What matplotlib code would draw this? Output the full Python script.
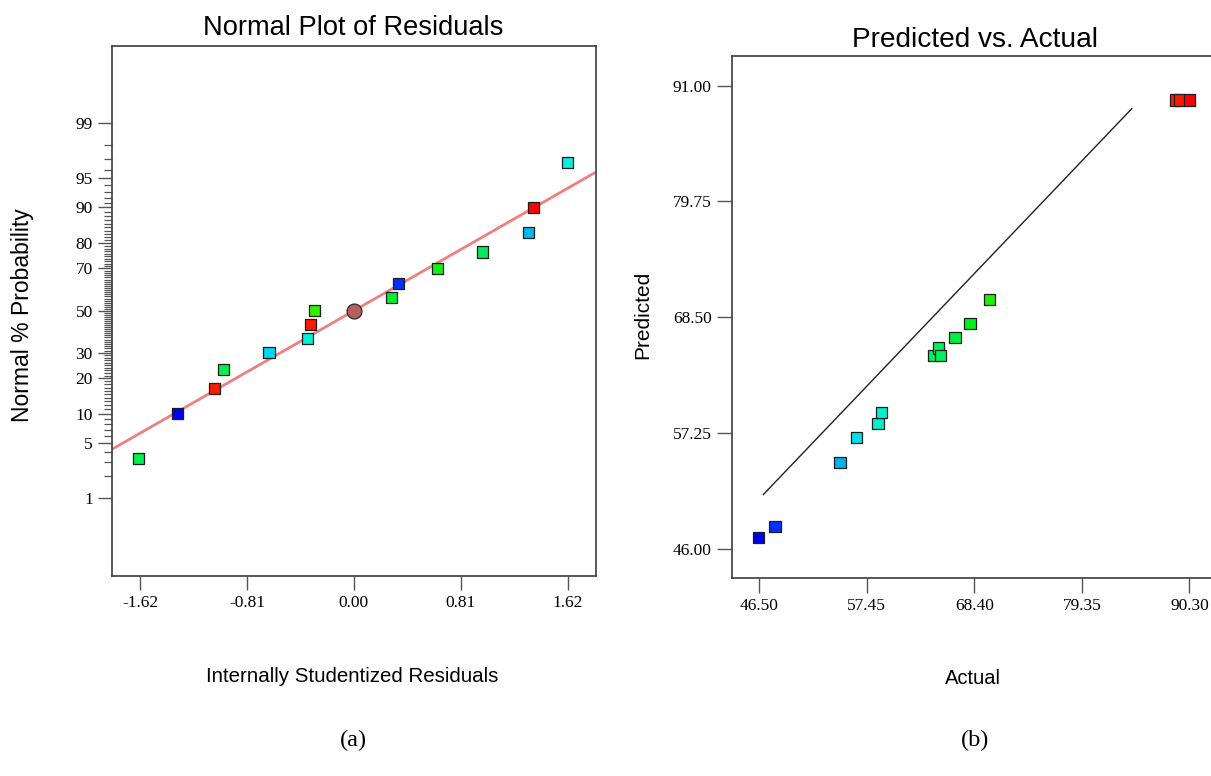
import matplotlib
matplotlib.use("Agg")
import matplotlib.pyplot as plt
from statistics import NormalDist

# ---------------- data ----------------
# (a) Normal plot of residuals
resid = [-1.63, -1.335, -1.055, -0.99, -0.643, -0.351, -0.328, -0.300,
         0.288, 0.338, 0.633, 0.977, 1.322, 1.360, 1.615]
prob_pct = [3.3, 10.0, 16.7, 23.3, 30.0, 36.7, 43.3, 50.0,
            56.7, 63.3, 70.0, 76.7, 83.3, 90.0, 96.7]
resid_colors = ['#00f050', '#0000f0', '#ff1a00', '#00f050', '#00d8f0', '#00f0d8',
                '#ff1a00', '#30f000', '#00f030', '#0030ff', '#10f010', '#00e860',
                '#00b8f0', '#ff0000', '#00f0d8']
center_resid = [0.0]
center_pct = [50.0]
fit_slope = 0.939           # z per unit residual of the reference line
x_ticks_a = [-1.62, -0.81, 0.00, 0.81, 1.62]
y_major_pct = [1, 5, 10, 20, 30, 50, 70, 80, 90, 95, 99]
y_minor_pct = [2, 3, 4] + list(range(6, 95)) + [96, 97, 98]

# (b) Predicted vs. Actual
actual = [46.40, 48.10, 54.72, 56.42, 58.59, 58.93, 64.22, 64.73, 64.91,
          66.43, 67.96, 69.97, 88.85, 89.28, 90.30]
predicted = [47.09, 48.13, 54.38, 56.81, 58.16, 59.20, 64.76, 65.51, 64.76,
             66.49, 67.88, 70.21, 89.61, 89.61, 89.61]
pred_colors = ['#0000f0', '#0030ff', '#00b0f0', '#00e0f0', '#00f0d0', '#00f0d0',
               '#00f060', '#00f060', '#00f060', '#00f040', '#00f020', '#20f000',
               '#ff1a00', '#ff1a00', '#ff0000']
ref_line_x = [46.91, 84.43]
ref_line_y = [51.26, 88.77]
x_ticks_b = [46.50, 57.45, 68.40, 79.35, 90.30]
y_ticks_b = [46.00, 57.25, 68.50, 79.75, 91.00]

# ---------------- figure ----------------
W, H = 1211, 776
fig = plt.figure(figsize=(W / 100, H / 100), dpi=100)
fig.patch.set_facecolor('white')

SANS = 'Liberation Sans'
SERIF = 'Liberation Serif'
SPINE = '#3c3c3c'
TICKC = '#555555'

def fx(px):
    return px / W

def fy(py):
    return 1 - py / H

nd = NormalDist()
z = lambda p: nd.inv_cdf(p / 100.0)

# ---- (a) ----
axa = fig.add_axes([fx(112.3), fy(575.7), fx(595.5) - fx(112.3), fy(45.7) - fy(575.7)])
axa.set_xlim(-1.83, 1.83)
axa.set_ylim(z(0.05), z(99.95))
xl = axa.get_xlim()
axa.plot(xl, [fit_slope * xl[0], fit_slope * xl[1]], color='#f07f7f', lw=2.0, zorder=2,
         solid_capstyle='butt')
axa.scatter(resid, [z(p) for p in prob_pct], marker='s', s=64, c=resid_colors,
            edgecolors='#1e1e1e', linewidths=0.9, zorder=3)
axa.scatter(center_resid, [z(p) for p in center_pct], marker='o', s=115, c='#b5605f',
            edgecolors='#2a2a2a', linewidths=0.9, zorder=4)
axa.set_xticks(x_ticks_a)
axa.set_xticklabels(['%.2f' % v for v in x_ticks_a])
axa.set_yticks([z(p) for p in y_major_pct])
axa.set_yticklabels([str(p) for p in y_major_pct])
axa.set_yticks([z(p) for p in y_minor_pct], minor=True)
axa.tick_params(axis='both', which='major', direction='out', length=10, width=1.0,
                color=TICKC, labelsize=12.5, pad=4)
axa.tick_params(axis='y', which='minor', direction='out', length=5.5, width=0.9,
                color=TICKC)
axa.tick_params(axis='x', which='minor', length=0)
for lab in axa.get_xticklabels() + axa.get_yticklabels():
    lab.set_fontfamily(SERIF)
for sp in axa.spines.values():
    sp.set_color(SPINE)
    sp.set_linewidth(1.2)

# ---- (b) ----
axb = fig.add_axes([fx(731.7), fy(578.3), fx(1217) - fx(731.7), fy(55.7) - fy(578.3)])
axb.set_xlim(43.69, 93.11)
axb.set_ylim(43.12, 93.92)
axb.plot(ref_line_x, ref_line_y, color='#202020', lw=1.0, zorder=2)
axb.scatter(actual, predicted, marker='s', s=64, c=pred_colors,
            edgecolors='#1e1e1e', linewidths=0.9, zorder=3)
axb.set_xticks(x_ticks_b)
axb.set_xticklabels(['%.2f' % v for v in x_ticks_b])
axb.set_yticks(y_ticks_b)
axb.set_yticklabels(['%.2f' % v for v in y_ticks_b])
axb.tick_params(axis='both', which='major', direction='out', length=10.5, width=1.0,
                color=TICKC, labelsize=12.5, pad=4)
for lab in axb.get_xticklabels() + axb.get_yticklabels():
    lab.set_fontfamily(SERIF)
for sp in axb.spines.values():
    sp.set_color(SPINE)
    sp.set_linewidth(1.2)

# ---- texts ----
fig.text(fx(353), fy(28), 'Normal Plot of Residuals', ha='center', va='center',
         fontsize=19.6, family=SANS)
fig.text(fx(975), fy(40), 'Predicted vs. Actual', ha='center', va='center',
         fontsize=20.2, family=SANS)
fig.text(fx(352), fy(677), 'Internally Studentized Residuals', ha='center', va='center',
         fontsize=14.8, family=SANS)
fig.text(fx(23), fy(315), 'Normal % Probability', ha='center', va='center',
         rotation=90, fontsize=16.5, family=SANS)
fig.text(fx(643), fy(315), 'Predicted', ha='center', va='center',
         rotation=90, fontsize=15, family=SANS)
fig.text(fx(973), fy(679), 'Actual', ha='center', va='center',
         fontsize=14.5, family=SANS)
fig.text(fx(353), fy(740), '(a)', ha='center', va='center', fontsize=17.5, family=SERIF)
fig.text(fx(975), fy(740), '(b)', ha='center', va='center', fontsize=17.5, family=SERIF)

fig.savefig('out.png', dpi=100, facecolor='white')
